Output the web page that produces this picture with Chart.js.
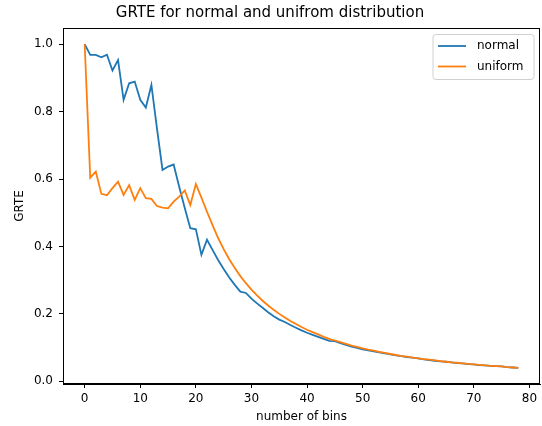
<!DOCTYPE html>
<html>
<head>
<meta charset="utf-8">
<script src="https://cdn.jsdelivr.net/npm/chart.js@4.4.1/dist/chart.umd.min.js"></script>
<style>
  html, body { margin: 0; padding: 0; background: #fff; }
  canvas { display: block; }
</style>
</head>
<body>
<canvas id="c" width="542" height="426"></canvas>
<script>
const bins = [0,1,2,3,4,5,6,7,8,9,10,11,12,13,14,15,16,17,18,19,20,21,22,23,24,25,26,27,28,29,30,31,32,33,34,35,36,37,38,39,40,41,42,43,44,45,46,47,48,49,50,51,52,53,54,55,56,57,58,59,60,61,62,63,64,65,66,67,68,69,70,71,72,73,74,75,76,77,78];

const normal = [1.000,0.968,0.968,0.961,0.969,0.922,0.953,0.835,0.884,0.889,
  0.835,0.812,0.879,0.750,0.627,0.637,0.643,0.577,0.514,0.454,
  0.451,0.375,0.420,0.390,0.360,0.333,0.308,0.286,0.266,0.262,
  0.245,0.231,0.218,0.205,0.193,0.183,0.176,0.167,0.159,0.151,
  0.144,0.138,0.132,0.126,0.120,0.119,0.113,0.108,0.103,0.099,
  0.095,0.092,0.089,0.086,0.083,0.080,0.077,0.075,0.072,0.070,
  0.068,0.065,0.063,0.061,0.059,0.058,0.056,0.054,0.053,0.051,
  0.050,0.048,0.047,0.046,0.045,0.044,0.042,0.041,0.040];

const uniform = [1.000,0.604,0.622,0.556,0.552,0.573,0.592,0.553,0.582,0.538,
  0.573,0.543,0.541,0.520,0.515,0.513,0.533,0.548,0.566,0.523,
  0.585,0.545,0.503,0.463,0.425,0.392,0.362,0.336,0.312,0.291,
  0.272,0.255,0.239,0.225,0.212,0.200,0.189,0.179,0.170,0.161,
  0.153,0.146,0.139,0.132,0.126,0.121,0.116,0.111,0.106,0.102,
  0.098,0.094,0.091,0.087,0.084,0.081,0.078,0.075,0.073,0.070,
  0.068,0.066,0.064,0.062,0.060,0.058,0.056,0.055,0.053,0.052,
  0.050,0.049,0.047,0.046,0.045,0.044,0.042,0.041,0.040];

const xTicks = [0,10,20,30,40,50,60,70,80];
const yTicks = [0.0,0.2,0.4,0.6,0.8,1.0];

const titleText = 'GRTE for normal and unifrom distribution';
const xLabel = 'number of bins';
const yLabel = 'GRTE';
const seriesNames = ['normal', 'uniform'];
const seriesColors = ['#1f77b4', '#ff7f0e'];

const FONT = "'DejaVu Sans', sans-serif";

const frameAndLegend = {
  id: 'frameAndLegend',
  afterDatasetsDraw(chart) {
    const {ctx, chartArea: a} = chart;
    ctx.save();
    ctx.strokeStyle = '#000';
    ctx.lineWidth = 1;
    ctx.strokeRect(Math.round(a.left) + 0.5, Math.round(a.top) + 0.5,
                   Math.round(a.right - a.left) - 1, Math.round(a.bottom - a.top) - 1);
    // legend
    const bx = a.right - 107, by = a.top + 6.5, bw = 101, bh = 45, r = 3;
    ctx.beginPath();
    ctx.moveTo(bx + r, by);
    ctx.lineTo(bx + bw - r, by);
    ctx.arcTo(bx + bw, by, bx + bw, by + r, r);
    ctx.lineTo(bx + bw, by + bh - r);
    ctx.arcTo(bx + bw, by + bh, bx + bw - r, by + bh, r);
    ctx.lineTo(bx + r, by + bh);
    ctx.arcTo(bx, by + bh, bx, by + bh - r, r);
    ctx.lineTo(bx, by + r);
    ctx.arcTo(bx, by, bx + r, by, r);
    ctx.closePath();
    ctx.fillStyle = 'rgba(255,255,255,0.8)';
    ctx.fill();
    ctx.strokeStyle = '#d0d0d0';
    ctx.lineWidth = 1;
    ctx.stroke();
    ctx.font = '12px ' + FONT;
    ctx.textBaseline = 'middle';
    ctx.textAlign = 'left';
    chart.data.datasets.forEach((ds, i) => {
      const yy = by + 11.5 + i * 20.5;
      ctx.strokeStyle = ds.borderColor;
      ctx.lineWidth = 1.8;
      ctx.beginPath();
      ctx.moveTo(bx + 5, yy);
      ctx.lineTo(bx + 33, yy);
      ctx.stroke();
      ctx.fillStyle = '#000';
      ctx.fillText(ds.label, bx + 44, yy);
    });
    ctx.restore();
  }
};

new Chart(document.getElementById('c'), {
  type: 'line',
  data: {
    datasets: [
      { label: seriesNames[0], data: bins.map((b, i) => ({x: b, y: normal[i]})),
        borderColor: seriesColors[0], backgroundColor: seriesColors[0],
        borderWidth: 1.8, pointRadius: 0, tension: 0, order: 1 },
      { label: seriesNames[1], data: bins.map((b, i) => ({x: b, y: uniform[i]})),
        borderColor: seriesColors[1], backgroundColor: seriesColors[1],
        borderWidth: 1.8, pointRadius: 0, tension: 0, order: 0 }
    ]
  },
  options: {
    responsive: false,
    animation: false,
    layout: { padding: { left: 0, right: 2, top: 0, bottom: 0 } },
    plugins: {
      legend: { display: false },
      tooltip: { enabled: false },
      title: {
        display: true, text: titleText, color: '#000',
        font: { family: FONT, size: 15, weight: 'normal' },
        padding: { top: 4, bottom: 6 }
      }
    },
    scales: {
      x: {
        type: 'linear', min: -3.9, max: 81.9,
        afterBuildTicks: s => { s.ticks = xTicks.map(v => ({value: v})); },
        afterFit: s => { s.height = 42; },
        grid: { display: true, drawOnChartArea: false, drawTicks: true, tickLength: 4, tickColor: '#000' },
        border: { display: true, color: '#000', width: 1 },
        ticks: { color: '#000', font: { family: FONT, size: 12 }, padding: 4, maxRotation: 0,
                 callback: v => String(v) },
        title: { display: true, text: xLabel, color: '#000',
                 font: { family: FONT, size: 12 }, padding: { top: 0, bottom: 2 } }
      },
      y: {
        type: 'linear', min: -0.008, max: 1.048,
        afterBuildTicks: s => { s.ticks = yTicks.map(v => ({value: v})); },
        afterFit: s => { s.width = 63; },
        grid: { display: true, drawOnChartArea: false, drawTicks: true, tickLength: 4, tickColor: '#000' },
        border: { display: true, color: '#000', width: 1 },
        ticks: { color: '#000', font: { family: FONT, size: 12 }, padding: 6,
                 callback: v => Number(v).toFixed(1) },
        title: { display: true, text: yLabel, color: '#000',
                 font: { family: FONT, size: 12 }, padding: { top: 13, bottom: 0 } }
      }
    }
  },
  plugins: [frameAndLegend]
});
</script>
</body>
</html>
